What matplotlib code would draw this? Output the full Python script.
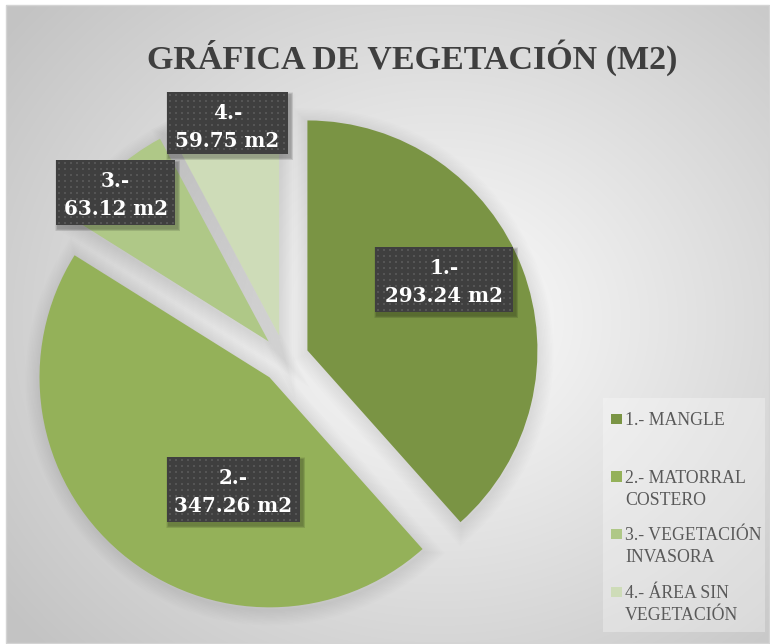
import numpy as np
import matplotlib.pyplot as plt
from matplotlib.patches import Rectangle, Wedge

# Datos de la gráfica
categorias = ['1.- MANGLE', '2.- MATORRAL\nCOSTERO', '3.- VEGETACIÓN\nINVASORA', '4.- ÁREA SIN\nVEGETACIÓN']
superficie = [293.24, 347.26, 63.12, 59.75]
colores = ['#7a9444', '#94b159', '#afc887', '#cedcb8']

W, H = 770, 644
fig = plt.figure(figsize=(W / 100, H / 100), dpi=100)
fig.patch.set_facecolor('white')
ax = fig.add_axes([0, 0, 1, 1])

# Fondo con degradado radial (blanco al centro, gris en las esquinas)
yy, xx = np.mgrid[5:H, 6:W]
r = np.hypot((xx - 440) / 380.0, (yy - 320) / 330.0)
tono = np.clip(253 - 40 * r, 195, 253) / 255.0
ax.imshow(np.dstack([tono] * 3), extent=(6, W, H, 5), zorder=0, interpolation='bilinear')
ax.add_patch(Rectangle((6, 5), W - 7, H - 6, fill=False, edgecolor='#d4d4d4', lw=1, zorder=1))

# Pastel con todas las porciones separadas
cx, cy, radio = 285, 359, 230
wedges, _ = ax.pie(superficie, colors=colores, startangle=-90, counterclock=True,
                   center=(cx, cy), radius=radio, explode=[24] * 4, frame=True,
                   wedgeprops=dict(linewidth=0, zorder=3))

# sombra difusa bajo cada porción
for w in wedges:
    x, y = w.center
    for k in range(10):
        ax.add_patch(Wedge((x + 1, y + 3), w.r, w.theta1, w.theta2, facecolor='none',
                           edgecolor='black', alpha=0.007, lw=2 + 2.2 * k, zorder=2))

# Etiquetas de datos en cajas oscuras
cajas = [(375, 247, 513, 312), (167, 457, 300, 522), (56, 160, 175, 225), (167, 92, 288, 154)]
for i, (v, (x0, y0, x1, y1)) in enumerate(zip(superficie, cajas)):
    for k in range(5):
        ax.add_patch(Rectangle((x0 + 1 - k * 0.5, y0 + 2 - k * 0.5), x1 - x0 + 2 + k, y1 - y0 + 2 + k,
                               facecolor='black', alpha=0.06, lw=0, zorder=4))
    ax.add_patch(Rectangle((x0, y0), x1 - x0, y1 - y0, facecolor='#3f3f3f', lw=0, zorder=5))
    gx, gy = np.meshgrid(np.arange(x0 + 3, x1 - 1, 6), np.arange(y0 + 3, y1 - 1, 6))
    ax.scatter(gx.ravel(), gy.ravel(), marker='s', s=2, color='#555555', linewidths=0, zorder=6)
    xm = (x0 + x1) / 2
    ax.text(xm, y0 + 27, f'{i + 1}.-', ha='center', va='baseline', color='white',
            family='DejaVu Serif', fontweight='bold', fontsize=14.3, zorder=7)
    ax.text(xm, y0 + 55, f'{v:.2f} m2', ha='center', va='baseline', color='white',
            family='DejaVu Serif', fontweight='bold', fontsize=14.3, zorder=7)

# Título
ax.text(412, 69, 'GRÁFICA DE VEGETACIÓN (M2)', ha='center', va='baseline',
        family='Liberation Serif', fontweight='bold', fontsize=24.5, color='#3f3f3f', zorder=7)

# Leyenda
ax.add_patch(Rectangle((603, 398), 162, 234, facecolor='white', alpha=0.3, lw=0, zorder=1))
for i, (cat, col) in enumerate(zip(categorias, colores)):
    yc = 419 + 57.7 * i
    ax.add_patch(Rectangle((611, yc - 5.5), 10.5, 10.5, facecolor=col, lw=0, zorder=7))
    for j, linea in enumerate(cat.split('\n')):
        ax.text(625, yc + 6 + 22 * j, linea, ha='left', va='baseline', family='Liberation Serif',
                fontsize=12.8, color='#595959', zorder=7)

ax.set_xlim(0, W)
ax.set_ylim(H, 0)
ax.axis('off')

plt.savefig('out.png', dpi=100)
